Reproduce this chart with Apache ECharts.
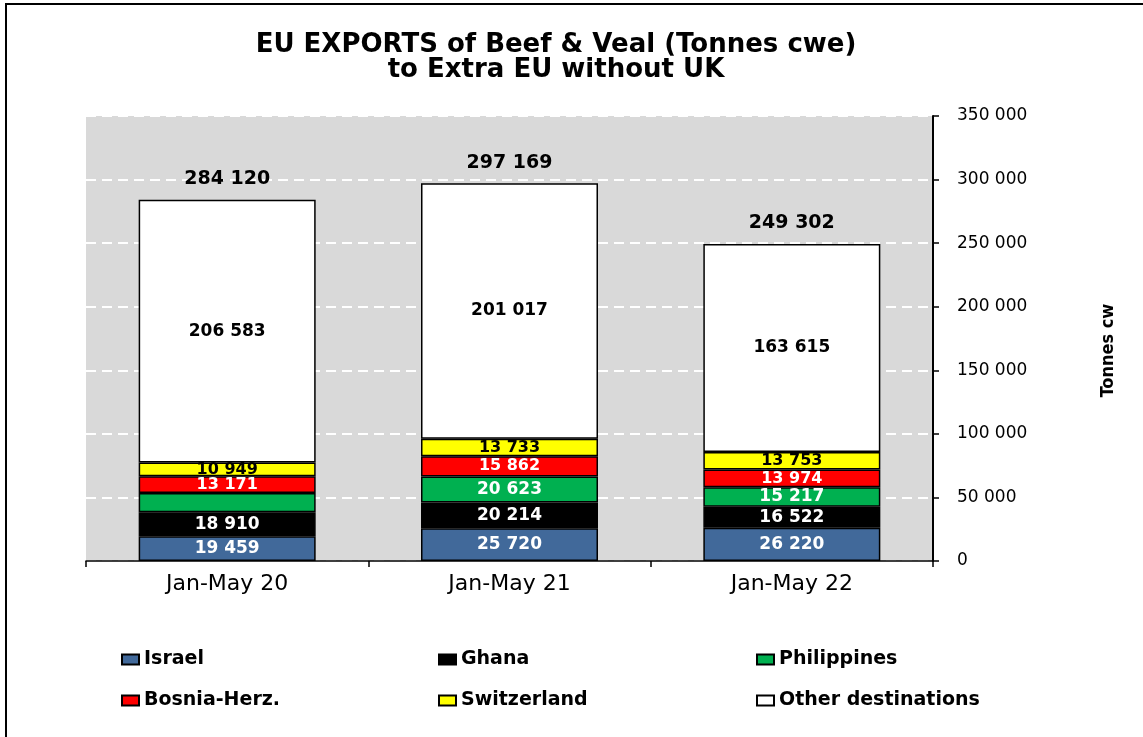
<!DOCTYPE html>
<html>
<head>
<meta charset="utf-8">
<script src="https://cdn.jsdelivr.net/npm/echarts@6/dist/echarts.min.js"></script>
<style>
html,body{margin:0;padding:0;background:#fff;}
#chart{width:1143px;height:737px;}
</style>
</head>
<body>
<div id="chart"></div>
<script>
// ---- data ----
const categories = ['Jan-May 20', 'Jan-May 21', 'Jan-May 22'];
const israel = [19459, 25720, 26220];
const ghana = [18910, 20214, 16522];
const philippines = [15048, 20623, 15217]; // first value unlabelled in source, estimated
const bosnia = [13171, 15862, 13974];
const switzerland = [10949, 13733, 13753];
const other = [206583, 201017, 163615];
const totals = [284120, 297169, 249302];
const yTicks = [0, 50000, 100000, 150000, 200000, 250000, 300000, 350000];
const hiddenLabels = { 'Philippines': [0] };

function fmt(v) {
  return String(v).replace(/\B(?=(\d{3})+(?!\d))/g, ' ');
}

const FONT = 'DejaVu Sans';

function barSeries(name, values, color, labelColor, labelSize) {
  const hidden = hiddenLabels[name] || [];
  return {
    name: name,
    type: 'bar',
    stack: 'total',
    barWidth: 177,
    data: values.map((v, i) => hidden.indexOf(i) >= 0 ? { value: v, label: { show: false } } : v),
    itemStyle: { color: color, borderColor: '#000', borderWidth: 1.5 },
    label: {
      show: true,
      position: 'inside',
      color: labelColor,
      fontFamily: FONT,
      fontWeight: 'bold',
      fontSize: labelSize,
      formatter: p => fmt(p.value)
    },
    emphasis: { disabled: true }
  };
}

const chart = echarts.init(document.getElementById('chart'), null, { renderer: 'canvas' });

const legendCommon = {
  orient: 'vertical',
  icon: 'rect',
  itemWidth: 17,
  itemHeight: 10,
  itemGap: 22,
  top: 645,
  textStyle: { fontFamily: FONT, fontWeight: 'bold', fontSize: 19, color: '#000' },
  selectedMode: false
};

chart.setOption({
  backgroundColor: '#fff',
  animation: false,
  title: {
    text: 'EU EXPORTS of Beef & Veal (Tonnes cwe)\nto Extra EU without UK',
    left: 551,
    textAlign: 'center',
    top: 28,
    textStyle: { fontFamily: FONT, fontWeight: 'bold', fontSize: 26, lineHeight: 25, color: '#000' }
  },
  legend: [
    Object.assign({}, legendCommon, { left: 116, data: ['Israel', 'Bosnia-Herz.'] }),
    Object.assign({}, legendCommon, { left: 433, data: ['Ghana', 'Switzerland'] }),
    Object.assign({}, legendCommon, { left: 751, data: ['Philippines', 'Other destinations'] })
  ],
  grid: {
    left: 86, right: 210, top: 116, bottom: 176,
    show: true, backgroundColor: '#d9d9d9', borderWidth: 0
  },
  xAxis: {
    type: 'category',
    data: categories,
    axisLine: { show: true, lineStyle: { color: '#000', width: 1.5 } },
    axisTick: { show: true, alignWithLabel: false, length: 6, lineStyle: { color: '#000', width: 1.5 } },
    axisLabel: { color: '#000', fontFamily: FONT, fontSize: 22, margin: 12 }
  },
  yAxis: {
    type: 'value',
    position: 'right',
    min: yTicks[0],
    max: yTicks[yTicks.length - 1],
    interval: yTicks[1] - yTicks[0],
    name: 'Tonnes cw',
    nameLocation: 'middle',
    nameRotate: 90,
    nameGap: 166,
    nameTextStyle: { fontFamily: "'DejaVu Sans Condensed', 'Liberation Sans', sans-serif", fontWeight: 'bold', fontSize: 18, color: '#000', padding: [0, 24, 0, 0] },
    axisLine: { show: true, lineStyle: { color: '#000', width: 2 } },
    axisTick: { show: true, length: 6, lineStyle: { color: '#000', width: 1.5 } },
    axisLabel: { color: '#000', fontFamily: FONT, fontSize: 17, margin: 24, formatter: v => fmt(v) },
    splitLine: { show: true, lineStyle: { color: '#ffffff', width: 2, type: [10, 6] } }
  },
  series: [
    barSeries('Israel', israel, '#41699a', '#fff', 17),
    barSeries('Ghana', ghana, '#000000', '#fff', 17),
    barSeries('Philippines', philippines, '#00b050', '#fff', 17),
    barSeries('Bosnia-Herz.', bosnia, '#ff0000', '#fff', 16),
    barSeries('Switzerland', switzerland, '#ffff00', '#000', 16),
    barSeries('Other destinations', other, '#ffffff', '#000', 17),
    {
      name: 'Total',
      type: 'scatter',
      symbolSize: 0,
      data: totals,
      z: 10,
      itemStyle: { opacity: 1, color: '#000' },
      label: {
        show: true,
        position: 'top',
        distance: 11,
        color: '#000',
        fontFamily: FONT,
        fontWeight: 'bold',
        fontSize: 19,
        formatter: p => fmt(p.value)
      },
      emphasis: { disabled: true }
    }
  ],
  graphic: [
    { type: 'line', shape: { x1: 5, y1: 4, x2: 1143, y2: 4 }, style: { stroke: '#000', lineWidth: 2 } },
    { type: 'line', shape: { x1: 6, y1: 4, x2: 6, y2: 737 }, style: { stroke: '#000', lineWidth: 2 } }
  ]
});
</script>
</body>
</html>
